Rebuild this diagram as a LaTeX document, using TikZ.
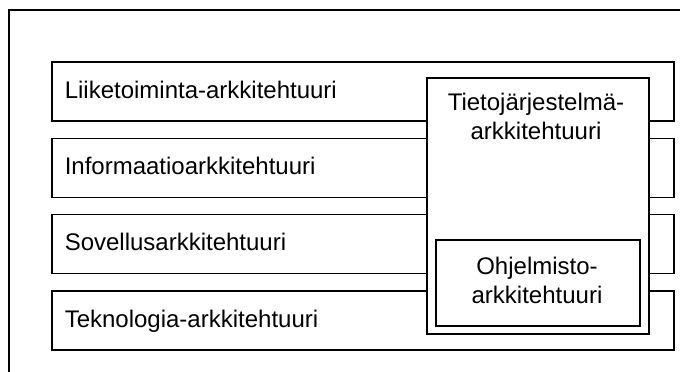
\documentclass[tikz,border=0pt]{standalone}
\usepackage{fontspec}
\setmainfont{Liberation Sans}
\begin{document}
\begin{tikzpicture}[x=1pt,y=-1pt,
  every node/.style={font=\fontsize{24}{29}\selectfont},
  frame/.style={draw=black, line width=1.8pt},
  layerbox/.style={draw=black, line width=1.5pt, fill=white, rectangle,
    anchor=north west, minimum width=622pt, minimum height=59pt,
    inner xsep=13pt, inner ysep=0pt, text width=596pt, align=left,
    text height=17pt, text depth=3.4pt},
  blockbox/.style={draw=black, line width=1.5pt, fill=white, rectangle,
    anchor=north west, inner sep=0pt},
  blocktext/.style={align=center, inner sep=0pt, anchor=base}]
  \useasboundingbox (0,0) rectangle (680,372);
  \clip (0,0) rectangle (680,372);
  % surrounding frame, running off the right and bottom edges
  \draw[frame] (9,10) rectangle (700,400);
  % the four architecture layers
  \node[layerbox] (liike) at (51,61)  {Liiketoiminta-arkkitehtuuri};
  \node[layerbox] (info)  at (51,137.5) {Informaatioarkkitehtuuri};
  \node[layerbox] (sov)   at (51,213.5) {Sovellusarkkitehtuuri};
  \node[layerbox] (tekno) at (51,290) {Teknologia-arkkitehtuuri};
  % information system architecture across the layers
  \node[blockbox, minimum width=222pt, minimum height=256pt] (tis) at (426,77) {};
  \node[blocktext] (tistext) at (536,139.5) {Tietojärjestelmä-\\arkkitehtuuri};
  % software architecture inside it
  \node[blockbox, minimum width=204pt, minimum height=86pt] (ohj) at (435,239) {};
  \node[blocktext] (ohjtext) at (537,303) {Ohjelmisto-\\arkkitehtuuri};
\end{tikzpicture}
\end{document}
